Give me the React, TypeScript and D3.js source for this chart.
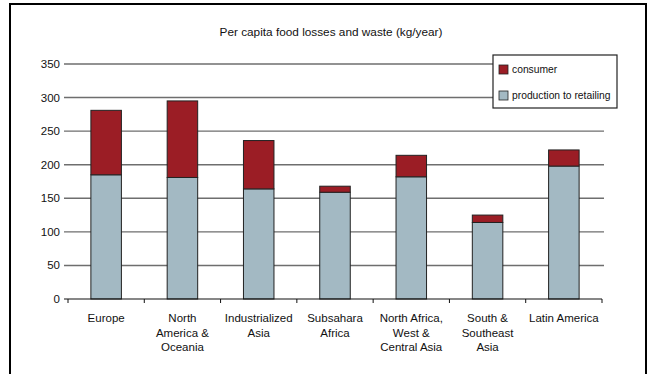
import * as d3 from "d3";

const regions = [
  ["Europe"],
  ["North", "America &", "Oceania"],
  ["Industrialized", "Asia"],
  ["Subsahara", "Africa"],
  ["North Africa,", "West &", "Central Asia"],
  ["South &", "Southeast", "Asia"],
  ["Latin America"],
];
const productionToRetailing = [185, 181, 164, 159, 182, 114, 198];
const consumer = [96, 114, 72, 9, 32, 11, 24];
const yTicks = [0, 50, 100, 150, 200, 250, 300, 350];

const FONT = "'Liberation Sans Narrow', 'Arial Narrow', 'Liberation Sans', sans-serif";
const RED = "#9b1d25";
const BLUE = "#a3b9c3";

export default function App() {
  const width = 650;
  const height = 374;
  const keys = regions.map((r) => r.join(" "));

  const x = d3.scaleBand<string>().domain(keys).range([68, 602]).paddingInner(0.6).paddingOuter(0.3);
  const y = d3.scaleLinear().domain([0, 350]).range([299, 64]);
  const step = x.step();

  return (
    <div style={{ position: "absolute", left: 0, top: 0 }}>
      <svg width={width} height={height} style={{ display: "block", fontFamily: FONT }}>
        <rect x={0} y={0} width={width} height={height} fill="#fff" />
        {/* outer frame */}
        <rect x={10} y={4} width={636} height={400} fill="none" stroke="#000" strokeWidth={2} />

        <text x={331} y={36} textAnchor="middle" fontSize={11.8} fill="#111">
          Per capita food losses and waste (kg/year)
        </text>

        {/* gridlines + y labels */}
        {yTicks.map((t) => (
          <g key={t}>
            {t > 0 && (
              <line x1={64} x2={604} y1={y(t)} y2={y(t)} stroke="#6e6e6e" strokeWidth={1.4} />
            )}
            <text x={60} y={y(t) + 4} textAnchor="end" fontSize={11.5} fill="#111">
              {t}
            </text>
          </g>
        ))}

        {/* bars */}
        {keys.map((k, i) => {
          const x0 = x(k)!;
          const p = productionToRetailing[i];
          const c = consumer[i];
          return (
            <g key={k} stroke="#222" strokeWidth={1}>
              <rect x={x0} y={y(p)} width={x.bandwidth()} height={y(0) - y(p)} fill={BLUE} />
              <rect x={x0} y={y(p + c)} width={x.bandwidth()} height={y(p) - y(p + c)} fill={RED} />
            </g>
          );
        })}

        {/* x axis */}
        <line x1={64} x2={602} y1={y(0)} y2={y(0)} stroke="#111" strokeWidth={1.2} />
        {d3.range(keys.length + 1).map((i) => (
          <line key={i} x1={68 + i * step} x2={68 + i * step} y1={y(0)} y2={y(0) + 4} stroke="#111" strokeWidth={1} />
        ))}
        {regions.map((lines, i) => (
          <text key={i} x={x(keys[i])! + x.bandwidth() / 2} y={322} textAnchor="middle" fontSize={11.5} fill="#111">
            {lines.map((l, j) => (
              <tspan key={j} x={x(keys[i])! + x.bandwidth() / 2} dy={j === 0 ? 0 : 14.5}>
                {l}
              </tspan>
            ))}
          </text>
        ))}

        {/* legend */}
        <rect x={493} y={55} width={124} height={53} fill="#fff" stroke="#222" strokeWidth={1.2} />
        <rect x={499} y={65} width={9} height={9} fill={RED} stroke="#222" strokeWidth={0.8} />
        <text x={512} y={73} fontSize={10.3} fill="#111">consumer</text>
        <rect x={499} y={91} width={9} height={9} fill={BLUE} stroke="#222" strokeWidth={0.8} />
        <text x={512} y={99} fontSize={10.3} fill="#111">production to retailing</text>
      </svg>
    </div>
  );
}
